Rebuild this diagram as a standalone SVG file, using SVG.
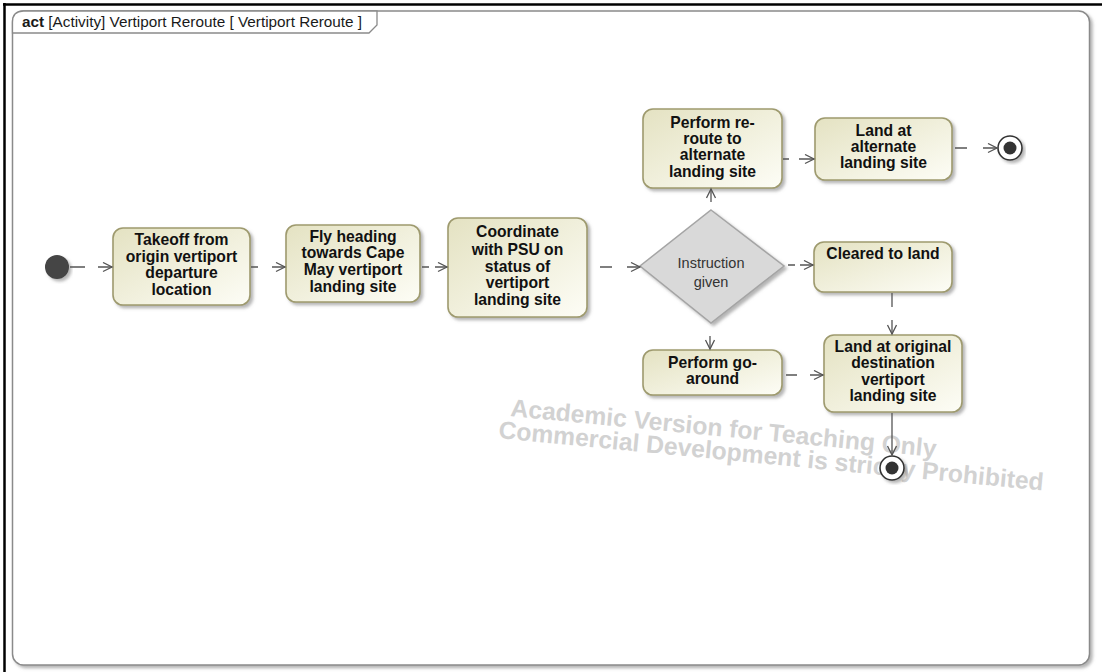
<svg xmlns="http://www.w3.org/2000/svg" width="1102" height="672" viewBox="0 0 1102 672">
<style>
.act{fill:url(#g);stroke:#9e9a6e;stroke-width:1.6;filter:url(#sh)}
.t{font-family:"Liberation Sans",Arial,sans-serif;font-weight:bold;font-size:15.7px;fill:#111;text-anchor:middle}
.tn{font-family:"Liberation Sans",Arial,sans-serif;font-size:14.5px;fill:#333;text-anchor:middle}
.c{fill:none;stroke:#555;stroke-width:1.3}
.wm{font-family:"Liberation Sans",Arial,sans-serif;font-weight:bold;font-size:24.7px;fill:#d2d2d2}
</style>
<defs>
<linearGradient id="g" x1="0" y1="0" x2="1" y2="1">
<stop offset="0" stop-color="#e4e2c2"/>
<stop offset="1" stop-color="#fdfdf6"/>
</linearGradient>
<filter id="sh" x="-10%" y="-10%" width="125%" height="130%">
<feDropShadow dx="2.5" dy="2.5" stdDeviation="1.5" flood-color="#777" flood-opacity="0.55"/>
</filter>
<marker id="a" markerUnits="userSpaceOnUse" markerWidth="12" markerHeight="12" refX="10" refY="5" orient="auto">
<path d="M1,0.5 L10,5 L1,9.5" fill="none" stroke="#555" stroke-width="1.3"/>
</marker>
</defs>
<rect width="1102" height="672" fill="#fff"/>
<line x1="3" y1="4.5" x2="1102" y2="4.5" stroke="#000" stroke-width="2.5"/>
<line x1="4.5" y1="3" x2="4.5" y2="672" stroke="#000" stroke-width="2.5"/>
<g id="frame">
<rect x="12.5" y="11" width="1077" height="654" rx="11" fill="#fff" stroke="#8a8a8a" stroke-width="1.5" filter="url(#sh)"/>
<path d="M12.5,33 L12.5,22 Q12.5,11 23.5,11 L377,11 L377,25 L369,33 Z" fill="#fff" stroke="#8a8a8a" stroke-width="1.3"/>
<text x="22" y="27" font-family="Liberation Sans, Arial, sans-serif" font-size="15.3" fill="#1a1a1a"><tspan font-weight="bold">act</tspan> [Activity] Vertiport Reroute [ Vertiport Reroute ]</text>
</g>
<g id="watermark">
<text class="wm" x="510" y="416" transform="rotate(5.5 510 416)">Academic Version for Teaching Only</text>
<text class="wm" x="498" y="438" transform="rotate(5.5 498 438)">Commercial Development is strictly Prohibited</text>
</g>
<g id="initial"><circle cx="57" cy="267" r="12" fill="#444" filter="url(#sh)"/></g>
<g id="takeoff"><rect class="act" x="113" y="228" width="137" height="77" rx="10"/>
<text class="t"><tspan x="181.5" y="245">Takeoff from</tspan><tspan x="181.5" y="262">origin vertiport</tspan><tspan x="181.5" y="278">departure</tspan><tspan x="181.5" y="295">location</tspan></text></g>
<g id="fly"><rect class="act" x="286" y="225" width="134" height="77" rx="10"/>
<text class="t"><tspan x="353" y="242">Fly heading</tspan><tspan x="353" y="258">towards Cape</tspan><tspan x="353" y="275">May vertiport</tspan><tspan x="353" y="292">landing site</tspan></text></g>
<g id="coordinate"><rect class="act" x="448" y="218" width="139" height="99" rx="10"/>
<text class="t"><tspan x="517.5" y="237">Coordinate</tspan><tspan x="517.5" y="255">with PSU on</tspan><tspan x="517.5" y="272">status of</tspan><tspan x="517.5" y="288">vertiport</tspan><tspan x="517.5" y="305">landing site</tspan></text></g>
<g id="decision"><polygon points="711,210 784,266 711,323 640,266" fill="#d9d9d9" stroke="#a5a5a5" stroke-width="1.5" filter="url(#sh)"/>
<text class="tn"><tspan x="711" y="268">Instruction</tspan><tspan x="711" y="287">given</tspan></text></g>
<g id="reroute"><rect class="act" x="643" y="109" width="139" height="79" rx="10"/>
<text class="t"><tspan x="712.5" y="128">Perform re-</tspan><tspan x="712.5" y="144">route to</tspan><tspan x="712.5" y="160">alternate</tspan><tspan x="712.5" y="177">landing site</tspan></text></g>
<g id="landalt"><rect class="act" x="815" y="118" width="137" height="62" rx="10"/>
<text class="t"><tspan x="883.5" y="136">Land at</tspan><tspan x="883.5" y="152">alternate</tspan><tspan x="883.5" y="168">landing site</tspan></text></g>
<g id="final1"><circle cx="1010" cy="148" r="12" fill="#fff" stroke="#333" stroke-width="1.6" filter="url(#sh)"/><circle cx="1010" cy="148" r="6.5" fill="#333"/></g>
<g id="cleared"><rect class="act" x="814" y="242" width="138" height="50" rx="10"/>
<text class="t" x="883" y="259">Cleared to land</text></g>
<g id="goaround"><rect class="act" x="643" y="350" width="139" height="45" rx="10"/>
<text class="t"><tspan x="712.5" y="368">Perform go-</tspan><tspan x="712.5" y="384">around</tspan></text></g>
<g id="landorig"><rect class="act" x="824" y="335" width="138" height="77" rx="10"/>
<text class="t"><tspan x="893" y="352">Land at original</tspan><tspan x="893" y="368">destination</tspan><tspan x="893" y="385">vertiport</tspan><tspan x="893" y="401">landing site</tspan></text></g>
<g id="final2"><circle cx="892" cy="468" r="12" fill="#fff" stroke="#333" stroke-width="1.6" filter="url(#sh)"/><circle cx="892" cy="468" r="6.5" fill="#333"/></g>
<g id="connectors">
<path class="c" d="M70,267 L85,267 M98,267 L112,267" marker-end="url(#a)"/>
<path class="c" d="M251,267 L258,267 M272,267 L285,267" marker-end="url(#a)"/>
<path class="c" d="M422,267 L429,267 M435,267 L447,267" marker-end="url(#a)"/>
<path class="c" d="M600,267 L612,267 M627,267 L640,267" marker-end="url(#a)"/>
<path class="c" d="M711,202 L711,189" marker-end="url(#a)"/>
<path class="c" d="M783,159 L789,159 M799,159 L814,159" marker-end="url(#a)"/>
<path class="c" d="M955,148 L967,148 M983,148 L997,148" marker-end="url(#a)"/>
<path class="c" d="M788,265 L795,265 M800,265 L813,265" marker-end="url(#a)"/>
<path class="c" d="M710,336 L710,349" marker-end="url(#a)"/>
<path class="c" d="M892,293 L892,307 M892,320 L892,334" marker-end="url(#a)"/>
<path class="c" d="M786,375 L797,375 M810,375 L823,375" marker-end="url(#a)"/>
<path class="c" d="M892,413 L892,455" marker-end="url(#a)"/>
</g>
</svg>
